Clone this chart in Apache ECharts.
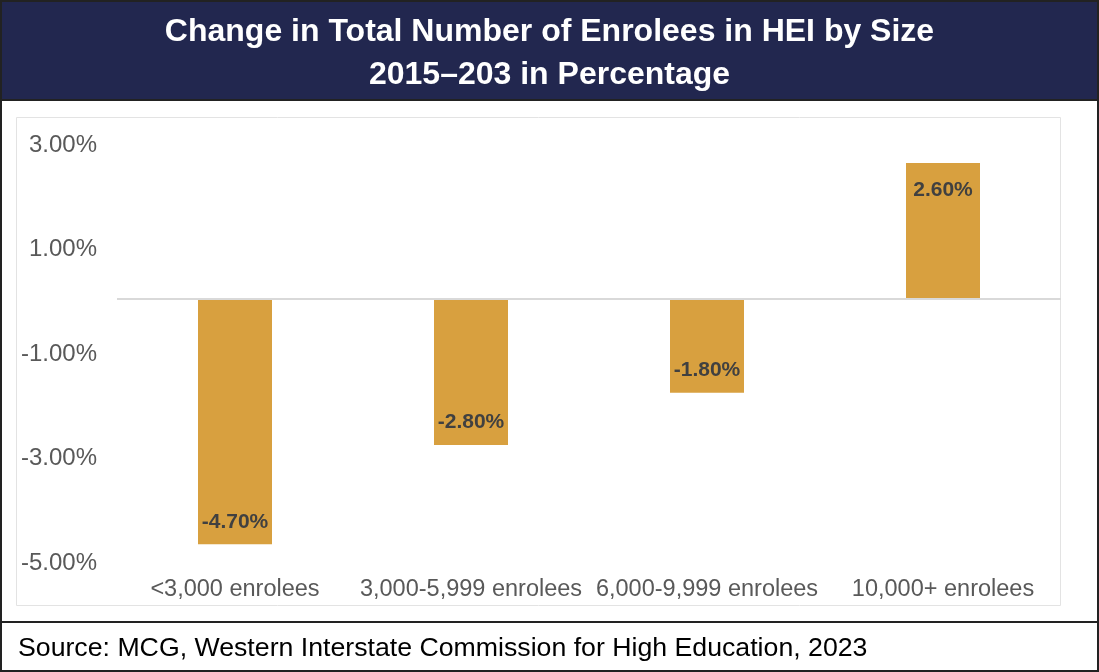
<!DOCTYPE html>
<html>
<head>
<meta charset="utf-8">
<script src="https://cdn.jsdelivr.net/npm/echarts@6/dist/echarts.min.js"></script>
<style>
  html, body { margin: 0; padding: 0; background: #fff; }
  #chart { width: 1099px; height: 672px; }
</style>
</head>
<body>
<div id="chart"></div>
<script>
// Enrolment change by institution size, 2015–2023 (%)
const categories = ['<3,000 enrolees', '3,000-5,999 enrolees', '6,000-9,999 enrolees', '10,000+ enrolees'];
const changePct = [-4.7, -2.8, -1.8, 2.6];
const yTicks = [-5, -3, -1, 1, 3];

const titleLines = ['Change in Total Number of Enrolees in HEI by Size', '2015–203 in Percentage'];
const sourceText = 'Source: MCG, Western Interstate Commission for High Education, 2023';

const W = 1099, H = 672;
const FONT = '"Liberation Sans", Arial, sans-serif';
const chart = echarts.init(document.getElementById('chart'), null, { renderer: 'canvas' });

chart.setOption({
  animation: false,
  backgroundColor: '#ffffff',
  textStyle: { fontFamily: FONT },
  title: {
    text: titleLines.join('\n'),
    left: 'center',
    top: 6,
    textStyle: { color: '#ffffff', fontSize: 32, fontWeight: 'bold', lineHeight: 43, fontFamily: FONT }
  },
  grid: { left: 117, right: 38, top: 142, bottom: 112, containLabel: false },
  xAxis: {
    type: 'category',
    data: categories,
    position: 'bottom',
    axisLine: { show: false },
    axisTick: { show: false },
    axisLabel: {
      color: '#595959', fontSize: 23.5, fontFamily: FONT,
      margin: 18, interval: 0
    }
  },
  yAxis: {
    type: 'value',
    min: yTicks[0],
    max: yTicks[yTicks.length - 1],
    interval: 2,
    splitLine: { show: false },
    axisLine: { show: false },
    axisTick: { show: false },
    axisLabel: {
      margin: 20,
      formatter: v => '{t|' + v.toFixed(2) + '%}',
      rich: {
        t: { color: '#595959', fontSize: 24, fontFamily: FONT, padding: [6, 0, 0, 0] }
      }
    }
  },
  series: [{
    type: 'bar',
    barWidth: 74,
    itemStyle: { color: '#D8A03F' },
    data: changePct.map(v => ({
      value: v,
      label: v >= 0
        ? { position: 'insideTop', distance: 17 }
        : { position: 'insideBottom', distance: 12 }
    })),
    label: {
      show: true,
      color: '#404040',
      fontSize: 21,
      fontWeight: 'bold',
      fontFamily: FONT,
      formatter: p => p.value.toFixed(2) + '%'
    },
    markLine: {
      silent: true,
      symbol: 'none',
      label: { show: false },
      lineStyle: { color: '#D9D9D9', width: 2, type: 'solid' },
      data: [{ yAxis: 0 }]
    },
    z: 3
  }],
  graphic: [
    // header band
    { type: 'rect', z: -1, shape: { x: 0, y: 0, width: W, height: 100 }, style: { fill: '#22274F' } },
    // inner plot frame
    { type: 'rect', z: -1, shape: { x: 16.5, y: 117.5, width: 1044, height: 488 }, style: { fill: 'none', stroke: '#E3E3E3', lineWidth: 1 } },
    // separators around the header and the source note
    { type: 'line', z: 10, shape: { x1: 0, y1: 622, x2: W, y2: 622 }, style: { stroke: '#222222', lineWidth: 2 } },
    { type: 'line', z: 10, shape: { x1: 0, y1: 100, x2: W, y2: 100 }, style: { stroke: '#222222', lineWidth: 2 } },
    // outer border
    { type: 'rect', z: 10, shape: { x: 1, y: 1, width: W - 2, height: H - 2 }, style: { fill: 'none', stroke: '#222222', lineWidth: 2 } },
    {
      type: 'text', z: 10, left: 18, top: 635,
      style: { text: sourceText, fill: '#000000', fontSize: 26.7, fontFamily: FONT }
    }
  ]
});
</script>
</body>
</html>
